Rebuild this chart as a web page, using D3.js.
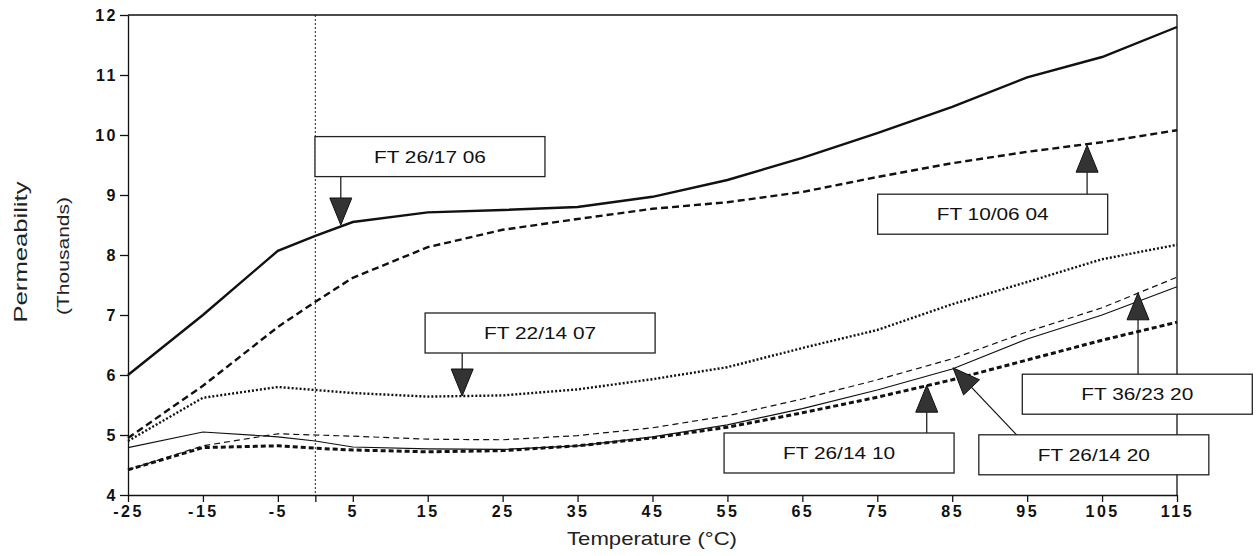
<!DOCTYPE html>
<html>
<head>
  <meta charset="utf-8">
  <script src="https://d3js.org/d3.v7.min.js"></script>
  <style>
    body { margin: 0; background: #fff; }
    .tick text { font-family: "Liberation Sans", Arial, sans-serif; font-weight: bold; font-size: 16px; letter-spacing: 2.5px; fill: #111; }
    .tick line, .domain { stroke: #111; stroke-width: 1.3; }
  </style>
</head>
<body>
  <div id="my_dataviz"></div>
  <script>

    // chart data
    var temps = [-25, -15, -5, 0, 5, 15, 25, 35, 45, 55, 65, 75, 85, 95, 105, 115];
    var ft261706 = [6.0, 7.0, 8.07, 8.32, 8.55, 8.71, 8.75, 8.8, 8.97, 9.25, 9.62, 10.03, 10.47, 10.96, 11.3, 11.8];
    var ft100604 = [4.95, 5.82, 6.8, 7.22, 7.62, 8.13, 8.42, 8.6, 8.77, 8.88, 9.05, 9.3, 9.53, 9.72, 9.88, 10.08];
    var ft221407 = [4.9, 5.62, 5.8, 5.75, 5.7, 5.64, 5.66, 5.76, 5.93, 6.13, 6.45, 6.75, 7.18, 7.55, 7.93, 8.17];
    var ft261410 = [4.42, 4.79, 4.82, 4.78, 4.75, 4.72, 4.74, 4.82, 4.95, 5.13, 5.37, 5.63, 5.92, 6.25, 6.58, 6.88];
    var ft261420 = [4.79, 5.05, 4.97, 4.9, 4.8, 4.77, 4.76, 4.82, 4.97, 5.17, 5.44, 5.75, 6.1, 6.6, 7.0, 7.47];
    var ft362320 = [4.42, 4.82, 5.02, 5.0, 4.98, 4.93, 4.92, 4.99, 5.12, 5.32, 5.6, 5.92, 6.27, 6.72, 7.12, 7.63];

    var xTicks = [-25, -15, -5, 0, 5, 15, 25, 35, 45, 55, 65, 75, 85, 95, 105, 115];
    var yTicks = [4, 5, 6, 7, 8, 9, 10, 11, 12];

    // annotation boxes (box centre and arrow tip in data units)
    var annLabels = ["FT 26/17 06", "FT 10/06 04", "FT 22/14 07", "FT 26/14 10", "FT 26/14 20", "FT 36/23 20"];
    var annBoxT = [15.3, 90.4, 30, 69.9, 103.9, 109.7];
    var annBoxV = [9.64, 8.68, 6.7, 4.7, 4.67, 5.68];
    var annTipT = [3.4, 103, 19.6, 81.6, 85.1, 109.8];
    var annTipV = [8.5, 9.83, 5.65, 5.83, 6.12, 7.37];
    var annFromT = [3.4, 103, 19.6, 81.6, 93.6, 109.8];

    // set the dimensions and margins of the graph
    var margin = { top: 15, right: 82, bottom: 61, left: 128 },
      width = 1259 - margin.left - margin.right,
      height = 556 - margin.top - margin.bottom;

    var svg = d3.select("#my_dataviz")
      .append("svg")
      .attr("width", 1259)
      .attr("height", 556)
      .append("g")
      .attr("transform", "translate(" + margin.left + "," + margin.top + ")");

    var x = d3.scaleLinear().domain([-25, 115]).range([0, width]);
    var y = d3.scaleLinear().domain([4, 12]).range([height, 0]);

    // series + their line styles
    var series = [
      { name: "FT 26/17 06", values: ft261706, w: 2.4, dash: null },
      { name: "FT 10/06 04", values: ft100604, w: 2.4, dash: "7,4" },
      { name: "FT 22/14 07", values: ft221407, w: 2.4, dash: "2,2" },
      { name: "FT 26/14 10", values: ft261410, w: 3, dash: "5,3" },
      { name: "FT 26/14 20", values: ft261420, w: 1.2, dash: null },
      { name: "FT 36/23 20", values: ft362320, w: 1.2, dash: "6,4" }
    ];

    var line = d3.line()
      .x(function (d, i) { return x(temps[i]) })
      .y(function (d) { return y(d) });

    // dotted line at 0 degrees
    svg.append("line")
      .attr("x1", x(0)).attr("x2", x(0))
      .attr("y1", 0).attr("y2", height)
      .attr("stroke", "#222")
      .attr("stroke-width", 1)
      .attr("stroke-dasharray", "2,2");

    svg.selectAll("myLines")
      .data(series)
      .enter()
      .append("path")
      .attr("d", function (d) { return line(d.values) })
      .attr("stroke", "#111")
      .attr("stroke-width", function (d) { return d.w })
      .attr("stroke-dasharray", function (d) { return d.dash })
      .style("fill", "none");

    // frame: top and right edges
    svg.append("line")
      .attr("x1", 0).attr("x2", width).attr("y1", 0).attr("y2", 0)
      .attr("stroke", "#111").attr("stroke-width", 1.3);
    svg.append("line")
      .attr("x1", width).attr("x2", width).attr("y1", 0).attr("y2", height)
      .attr("stroke", "#111").attr("stroke-width", 1.3);

    // axes
    svg.append("g")
      .attr("transform", "translate(0," + height + ")")
      .call(d3.axisBottom(x)
        .tickValues(xTicks)
        .tickSize(7)
        .tickSizeOuter(0)
        .tickPadding(4)
        .tickFormat(function (d) { return d === 0 ? "" : d }));

    svg.append("g")
      .call(d3.axisLeft(y)
        .tickValues(yTicks)
        .tickSize(8)
        .tickSizeOuter(0)
        .tickPadding(2));

    // axis titles
    svg.append("text")
      .attr("text-anchor", "middle")
      .attr("x", 524)
      .attr("y", height + 50)
      .attr("textLength", 170)
      .attr("lengthAdjust", "spacingAndGlyphs")
      .style("font-family", "Liberation Sans, Arial, sans-serif")
      .style("font-size", "19px")
      .style("fill", "#222")
      .text("Temperature (°C)");

    svg.append("text")
      .attr("text-anchor", "middle")
      .attr("transform", "translate(" + (-101) + "," + 237 + ") rotate(-90)")
      .attr("textLength", 141)
      .attr("lengthAdjust", "spacingAndGlyphs")
      .style("font-family", "Liberation Sans, Arial, sans-serif")
      .style("font-size", "18px")
      .style("fill", "#222")
      .text("Permeability");

    svg.append("text")
      .attr("text-anchor", "middle")
      .attr("transform", "translate(" + (-59) + "," + 241 + ") rotate(-90)")
      .attr("textLength", 118)
      .attr("lengthAdjust", "spacingAndGlyphs")
      .style("font-family", "Liberation Sans, Arial, sans-serif")
      .style("font-size", "17px")
      .style("fill", "#222")
      .text("(Thousands)");

    // annotation boxes with arrows
    var boxW = 230, boxH = 40, triLen = 27, triHalf = 11;
    var anns = annLabels.map(function (lab, i) {
      return { label: lab, bt: annBoxT[i], bv: annBoxV[i], tt: annTipT[i], tv: annTipV[i], ft: annFromT[i] };
    });

    var ag = svg.selectAll("myAnns")
      .data(anns)
      .enter()
      .append("g");

    ag.each(function (d) {
      var g = d3.select(this);
      var cx = x(d.bt), cy = y(d.bv);
      var tx = x(d.tt), ty = y(d.tv);
      var ax = x(d.ft);
      var ay = ty < cy ? cy - boxH / 2 : cy + boxH / 2;
      var dx = tx - ax, dy = ty - ay;
      var len = Math.sqrt(dx * dx + dy * dy);
      var ux = dx / len, uy = dy / len;
      var bx = tx - ux * triLen, by = ty - uy * triLen;

      g.append("line")
        .attr("x1", ax).attr("y1", ay).attr("x2", bx).attr("y2", by)
        .attr("stroke", "#111").attr("stroke-width", 1.2);

      g.append("path")
        .attr("d", "M" + tx + "," + ty +
          "L" + (bx - uy * triHalf) + "," + (by + ux * triHalf) +
          "L" + (bx + uy * triHalf) + "," + (by - ux * triHalf) + "Z")
        .attr("fill", "#333")
        .attr("stroke", "#111")
        .attr("stroke-width", 1);

      g.append("rect")
        .attr("x", cx - boxW / 2).attr("y", cy - boxH / 2)
        .attr("width", boxW).attr("height", boxH)
        .attr("fill", "#fff")
        .attr("stroke", "#222")
        .attr("stroke-width", 1.3);

      g.append("text")
        .attr("x", cx).attr("y", cy + 6)
        .attr("text-anchor", "middle")
        .attr("textLength", 112)
        .attr("lengthAdjust", "spacingAndGlyphs")
        .style("font-family", "Liberation Sans, Arial, sans-serif")
        .style("font-size", "17px")
        .style("fill", "#111")
        .text(d.label);
    });

  </script>
</body>
</html>
